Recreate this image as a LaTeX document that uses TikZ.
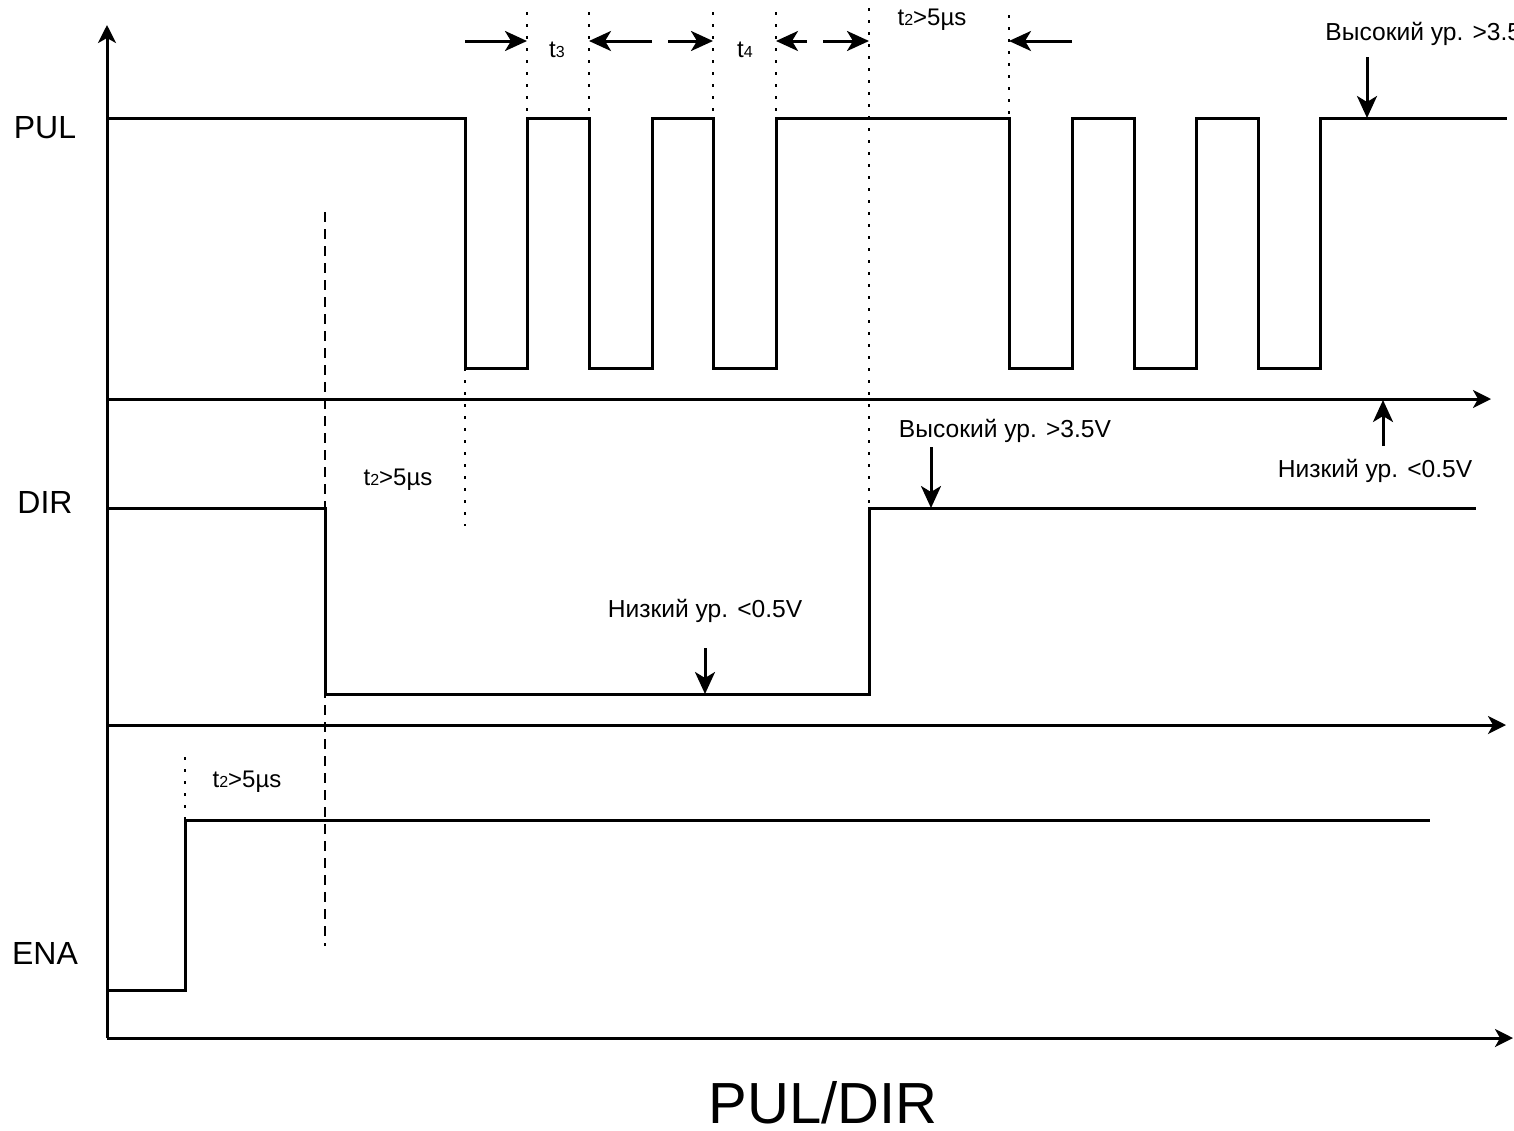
\documentclass[tikz,border=0pt]{standalone}
\usepackage{fontspec}
\setmainfont{Liberation Sans}
\usetikzlibrary{arrows.meta}
\newcommand{\tsub}[2]{#1{\fontsize{8}{9}\selectfont #2}}
\begin{document}
\begin{tikzpicture}[x=0.5pt,y=-0.5pt,
  sig/.style={line width=1.5pt, line join=miter},
  axisline/.style={line width=1.5pt, -{Stealth[length=9pt,width=9pt,inset=2.5pt]}},
  mark arrow/.style={line width=1.5pt, -{Stealth[length=11pt,width=10pt,inset=3pt]}},
  dotline/.style={line width=1.4pt, dash pattern=on 1.4pt off 4.6pt},
  dashline/.style={line width=1.4pt, dash pattern=on 5pt off 3.5pt},
  siglabel/.style={font=\fontsize{16}{19}\selectfont},
  small/.style={font=\fontsize{12.3}{14}\selectfont, inner sep=1pt},
  tlabel/.style={font=\fontsize{12}{14}\selectfont, inner sep=1pt}]
\useasboundingbox[fill=white] (0,0) rectangle (1514,1130);

% axes
\coordinate (O) at (107,1038);
\coordinate (Ytop) at (107,25);
\coordinate (Xend) at (1513,1038);
\draw[axisline] (O) -- (Ytop);
\draw[axisline] (O) -- (Xend);
\coordinate (P0) at (107,399); \coordinate (P1) at (1491,399);
\draw[axisline] (P0) -- (P1);
\coordinate (D0) at (107,725); \coordinate (D1) at (1506,725);
\draw[axisline] (D0) -- (D1);

% labels
\node[siglabel] (pul) at (45,128) {PUL};
\node[siglabel] (dir) at (45,502) {DIR};
\node[siglabel] (ena) at (45,953) {ENA};
\node[font=\fontsize{29}{33}\selectfont] (title) at (823,1103) {PUL/DIR};

% dotted guides
\draw[dotline] (527,12) -- (527,118);
\draw[dotline] (589,12) -- (589,118);
\draw[dotline] (713,12) -- (713,118);
\draw[dotline] (776,12) -- (776,118);
\draw[dotline] (869,8) -- (869,508);
\draw[dotline] (1009,15) -- (1009,118);
\draw[dotline] (465,368) -- (465,526);
\draw[dotline] (185,757) -- (185,820);
\draw[dashline] (325,212) -- (325,946);

% PUL waveform
\draw[sig] (107,118) -- (465,118) -- (465,368) -- (527,368) -- (527,118)
  -- (589,118) -- (589,368) -- (652,368) -- (652,118)
  -- (713,118) -- (713,368) -- (776,368) -- (776,118)
  -- (1009,118) -- (1009,368) -- (1072,368) -- (1072,118)
  -- (1134,118) -- (1134,368) -- (1196,368) -- (1196,118)
  -- (1258,118) -- (1258,368) -- (1320,368) -- (1320,118)
  -- (1507,118);

% DIR waveform
\draw[sig] (107,508) -- (325,508) -- (325,694) -- (869,694) -- (869,508) -- (1476,508);

% ENA waveform
\draw[sig] (107,990) -- (185,990) -- (185,820) -- (1430,820);

% timing arrows
\coordinate (a1s) at (465,41); \coordinate (a1e) at (527,41);
\coordinate (a2s) at (652,41); \coordinate (a2e) at (589,41);
\coordinate (a3s) at (668,41); \coordinate (a3e) at (713,41);
\coordinate (a4s) at (807,41); \coordinate (a4e) at (776,41);
\coordinate (a5s) at (823,41); \coordinate (a5e) at (869,41);
\coordinate (a6s) at (1072,41); \coordinate (a6e) at (1009,41);
\foreach \s/\e in {a1s/a1e,a2s/a2e,a3s/a3e,a4s/a4e,a5s/a5e,a6s/a6e}
  \draw[mark arrow] (\s) -- (\e);

\node[tlabel] (t3) at (557,50) {\tsub{t}{3}};
\node[tlabel] (t4) at (745,50) {\tsub{t}{4}};
\node[tlabel] (t2a) at (932,20) {\tsub{t}{2}>5µs};
\node[tlabel] (t2b) at (398,480) {\tsub{t}{2}>5µs};
\node[tlabel] (t2c) at (247,782) {\tsub{t}{2}>5µs};

% level annotations
\node[small, anchor=west] (hi1) at (1323,34) {Высокий ур. >3.5V};
\coordinate (hi1s) at (1367,57); \coordinate (hi1e) at (1367,118);
\draw[mark arrow] (hi1s) -- (hi1e);

\node[small] (lo1) at (1375,471) {Низкий ур. <0.5V};
\coordinate (lo1s) at (1383,446); \coordinate (lo1e) at (1383,400);
\draw[mark arrow] (lo1s) -- (lo1e);

\node[small] (hi2) at (1005,431) {Высокий ур. >3.5V};
\coordinate (hi2s) at (931,447); \coordinate (hi2e) at (931,508);
\draw[mark arrow] (hi2s) -- (hi2e);

\node[small] (lo2) at (705,611) {Низкий ур. <0.5V};
\coordinate (lo2s) at (705,648); \coordinate (lo2e) at (705,694);
\draw[mark arrow] (lo2s) -- (lo2e);
\end{tikzpicture}
\end{document}
